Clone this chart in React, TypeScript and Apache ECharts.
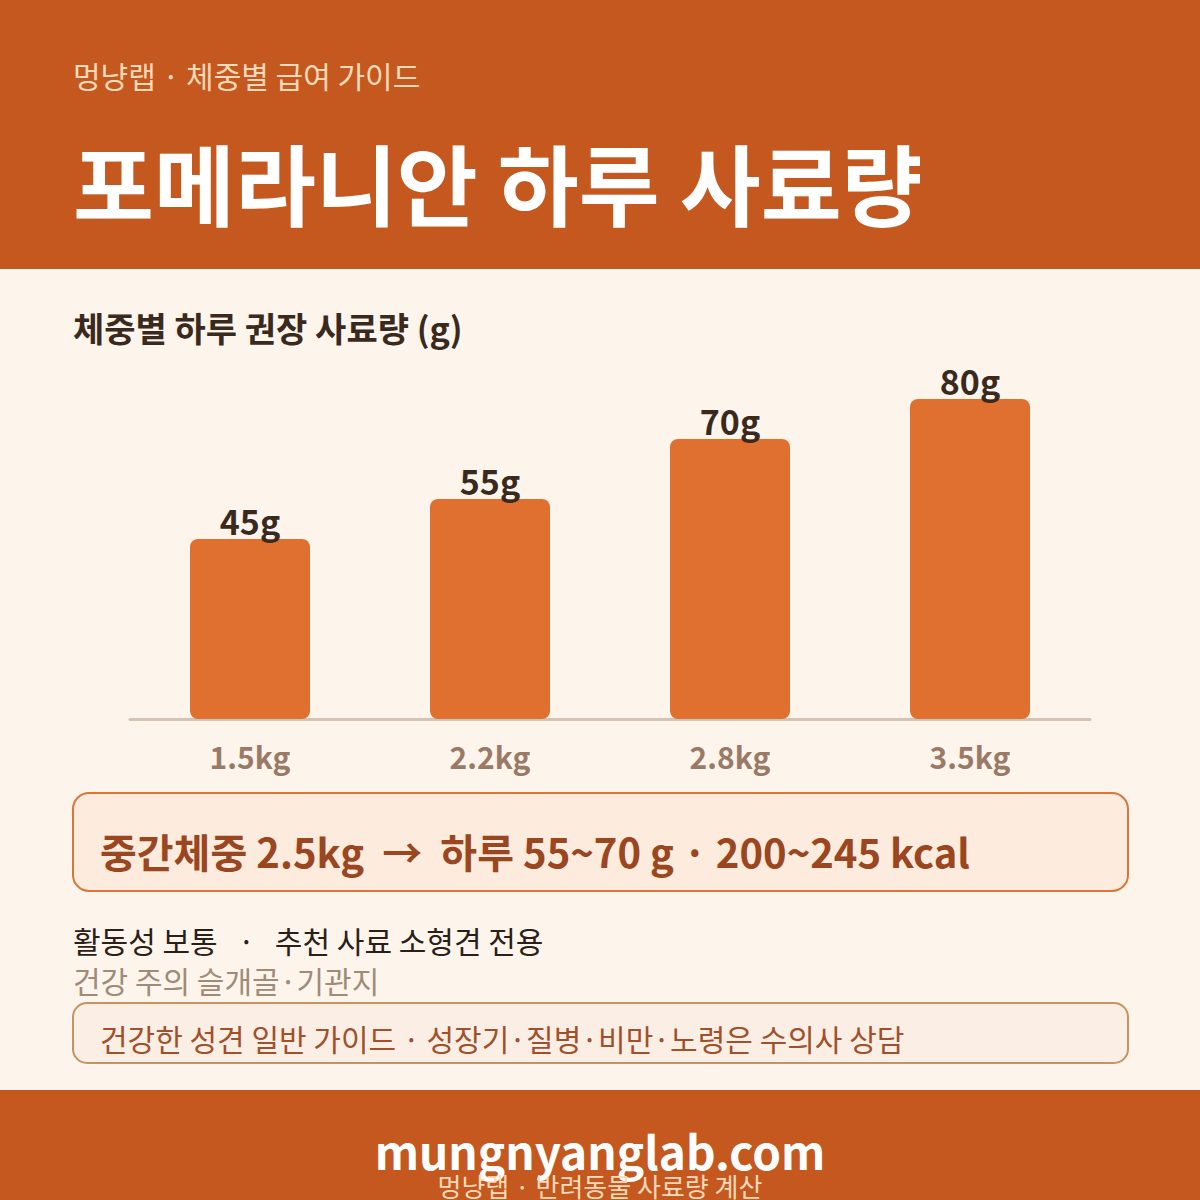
import React, { useEffect, useRef } from "react";
import * as echarts from "echarts";

const categories = ["1.5kg", "2.2kg", "2.8kg", "3.5kg"];
const values = [45, 55, 70, 80];
const yMax = 100;

const headerSub = "멍냥랩 · 체중별 급여 가이드";
const headerTitle = "포메라니안 하루 사료량";
const chartTitle = "체중별 하루 권장 사료량 (g)";
const summaryText = "중간체중 2.5kg  →  하루 55~70 g · 200~245 kcal";
const infoLine1 = "활동성 보통   ·   추천 사료 소형견 전용";
const infoLine2 = "건강 주의 슬개골·기관지";
const noteText = "건강한 성견 일반 가이드 · 성장기·질병·비만·노령은 수의사 상담";
const footerUrl = "mungnyanglab.com";
const footerSub = "멍냥랩 · 반려동물 사료량 계산";

const FONT = '"Noto Sans CJK KR", "Noto Sans", sans-serif';

export default function App() {
  const ref = useRef<HTMLDivElement>(null);
  useEffect(() => {
    if (!ref.current) return;
    const chart = echarts.init(ref.current, null, { renderer: "svg" });
    const txt = (text: string, x: number, y: number, size: number, weight: string, fill: string, align = "left") => ({
      type: "text",
      z: 10,
      style: {
        text,
        x,
        y,
        fill,
        font: `${weight} ${size}px ${FONT}`,
        textAlign: align,
        textVerticalAlign: "middle",
      },
    });
    chart.setOption({
      animation: false,
      backgroundColor: "#FDF5EC",
      textStyle: { fontFamily: FONT },
      grid: { left: 130, right: 110, top: 319, bottom: 481, containLabel: false },
      xAxis: {
        type: "category",
        data: categories,
        axisLine: { show: true, lineStyle: { color: "#D6C4B2", width: 3 } },
        axisTick: { show: false },
        axisLabel: {
          margin: 22,
          fontSize: 30,
          fontWeight: "bold",
          color: "#9A7A66",
          fontFamily: FONT,
        },
      },
      yAxis: {
        type: "value",
        min: 0,
        max: yMax,
        show: false,
        splitLine: { show: false },
      },
      series: [
        {
          type: "bar",
          data: values,
          barWidth: 120,
          itemStyle: { color: "#E07030", borderRadius: 8 },
          label: {
            show: true,
            position: "top",
            distance: 2,
            formatter: "{c}g",
            fontSize: 34,
            fontWeight: "bold",
            color: "#3A2A1E",
            fontFamily: FONT,
          },
        },
      ],
      graphic: [
        { type: "rect", z: 0, shape: { x: 0, y: 0, width: 1200, height: 269 }, style: { fill: "#C4581E" } },
        { type: "rect", z: 0, shape: { x: 0, y: 1090, width: 1200, height: 110 }, style: { fill: "#C4581E" } },
        txt(headerSub, 73, 75, 30, "normal", "#FCD9B8"),
        txt(headerTitle, 73, 180, 88, "bold", "#FFFFFF"),
        txt(chartTitle, 73, 327, 34, "bold", "#3A2A1E"),
        {
          type: "rect",
          z: 1,
          shape: { x: 73, y: 793, width: 1055, height: 98, r: 16 },
          style: { fill: "#FDEBDD", stroke: "#D9773A", lineWidth: 2 },
        },
        txt(summaryText, 100, 851, 40, "bold", "#9A4620"),
        txt(infoLine1, 73, 940, 30, "normal", "#2A2018"),
        txt(infoLine2, 73, 980, 30, "normal", "#A08A78"),
        {
          type: "rect",
          z: 1,
          shape: { x: 73, y: 1003, width: 1055, height: 60, r: 14 },
          style: { fill: "#FBEEE4", stroke: "#C9925E", lineWidth: 2 },
        },
        txt(noteText, 100, 1038, 30, "normal", "#A0502A"),
        txt(footerUrl, 600, 1150, 46, "bold", "#FFFFFF", "center"),
        txt(footerSub, 600, 1185, 26, "normal", "#FCD9B8", "center"),
      ],
    });
    return () => chart.dispose();
  }, []);
  return (
    <div
      ref={ref}
      style={{ position: "fixed", left: 0, top: 0, width: 1200, height: 1200 }}
    />
  );
}
